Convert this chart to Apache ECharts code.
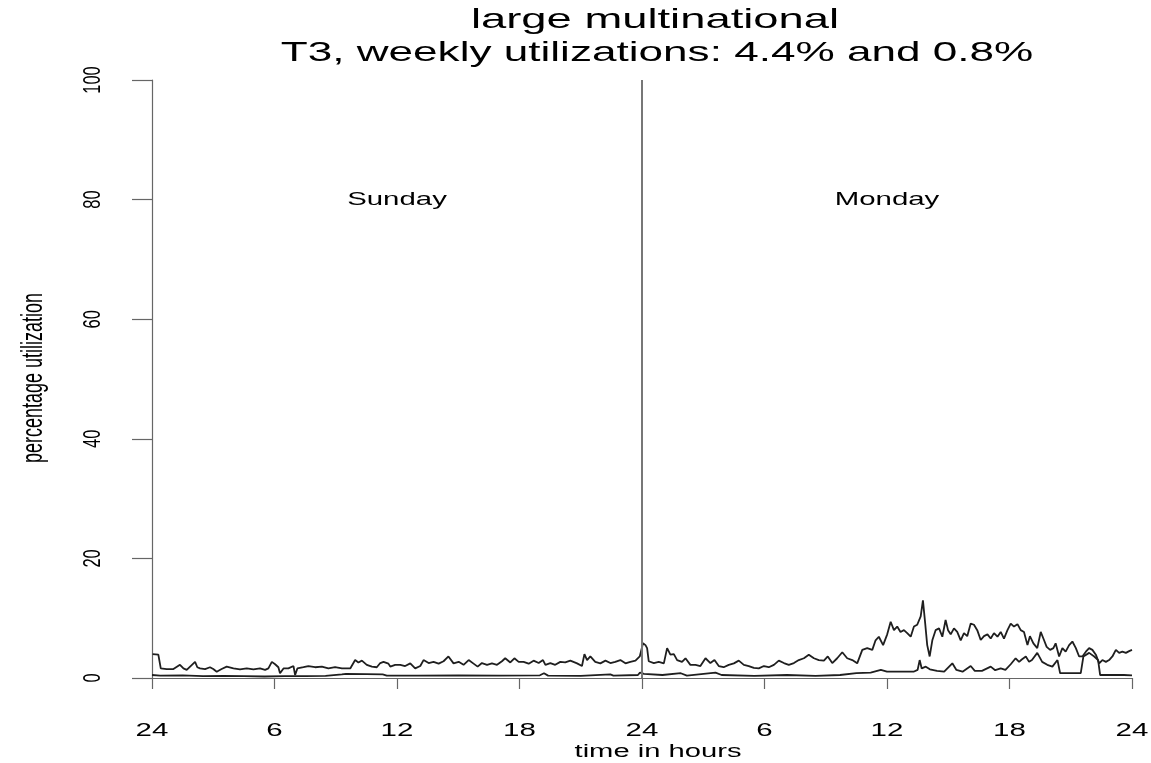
<!DOCTYPE html>
<html><head><meta charset="utf-8">
<script src="https://cdn.jsdelivr.net/npm/echarts/dist/echarts.min.js"></script>
<style>html,body{margin:0;padding:0;background:#fff}#c{width:1151px;height:763px}</style>
</head><body><div id="c"></div>
<script>
const titleLines = ['large multinational', 'T3, weekly utilizations: 4.4% and 0.8%'];
const xAxisName = 'time in hours';
const yAxisName = 'percentage utilization';
const xTickValues = [0, 6, 12, 18, 24, 30, 36, 42, 48];
const xTickLabels = ['24', '6', '12', '18', '24', '6', '12', '18', '24'];
const yTickValues = [0, 20, 40, 60, 80, 100];
const yTickLabels = ['0', '20', '40', '60', '80', '100'];
const dayLabels = ['Sunday', 'Monday'];
const dayLabelHours = [12, 36];
const dayLabelLevel = 80;
const dayBoundary = 24;

const upperHours = [0.03,0.31,0.43,0.72,1.05,1.37,1.54,1.70,2.11,2.22,2.35,2.6,2.84,3.0,3.17,3.41,3.66,3.99,4.31,4.64,4.97,5.29,5.54,5.7,5.87,6.03,6.19,6.27,6.44,6.68,6.93,7.01,7.12,7.42,7.66,7.99,8.32,8.64,8.97,9.3,9.71,9.95,10.11,10.28,10.52,10.77,11.01,11.18,11.34,11.58,
11.67,11.91,12.16,12.4,12.65,12.89,13.14,13.3,13.55,13.79,14.04,14.28,14.52,14.77,15.02,15.26,15.51,15.75,15.95,16.16,16.41,16.65,16.9,17.14,17.3,17.55,17.75,17.96,18.2,18.45,18.69,18.94,19.15,19.27,19.51,19.75,20.0,20.24,20.49,20.82,21.06,21.18,21.31,21.47,21.71,21.96,22.21,22.45,22.69,22.94,23.19,23.43,23.68,23.89,24.05,24.17,
24.25,24.33,24.58,24.82,25.07,25.23,25.39,25.56,25.72,25.96,26.13,26.37,26.62,26.86,27.11,27.35,27.55,27.76,28.0,28.25,28.5,28.74,28.99,29.23,29.48,29.72,29.97,30.21,30.46,30.7,30.95,31.19,31.44,31.68,31.93,32.17,32.42,32.66,32.91,33.1,33.32,33.56,33.81,34.05,34.3,34.54,34.79,35.03,35.28,35.44,35.6,35.81,36.01,36.18,
36.34,36.5,36.66,36.83,36.99,37.16,37.32,37.48,37.65,37.76,37.86,37.97,38.09,38.22,38.38,38.55,38.71,38.87,38.99,39.12,39.28,39.44,39.61,39.77,39.93,40.1,40.26,40.42,40.59,40.75,40.92,41.08,41.24,41.41,41.57,41.73,41.9,42.06,42.22,42.39,42.55,42.71,42.88,43.0,43.17,43.36,43.53,43.66,43.82,43.99,44.15,44.26,44.43,44.59,44.75,44.92,45.08,45.25,45.41,45.57,45.74,45.9,46.06,46.23,46.39,46.55,46.72,46.88,47.04,47.21,47.37,47.53,47.7,47.86,48.0];
const upperValues = [4.0,3.9,1.6,1.5,1.5,2.2,1.6,1.35,2.7,1.8,1.6,1.5,1.8,1.5,1.05,1.5,1.9,1.6,1.45,1.6,1.45,1.6,1.35,1.6,2.7,2.3,1.8,0.8,1.6,1.6,2.0,0.5,1.6,1.8,2.0,1.8,1.9,1.6,1.8,1.6,1.6,3.0,2.6,2.9,2.2,1.9,1.8,2.5,2.7,2.4,
1.9,2.2,2.2,2.0,2.45,1.6,2.0,3.0,2.5,2.7,2.4,2.8,3.6,2.45,2.7,2.2,3.0,2.4,1.9,2.5,2.2,2.45,2.2,2.8,3.3,2.6,3.3,2.7,2.7,2.4,2.9,2.5,3.0,2.2,2.5,2.2,2.7,2.6,2.9,2.45,2.0,4.0,3.0,3.6,2.7,2.45,2.9,2.5,2.7,3.0,2.45,2.7,2.9,3.6,5.8,5.5,
5.0,2.8,2.5,2.7,2.45,5.0,3.9,4.0,3.0,2.7,3.3,2.2,2.2,2.0,3.3,2.5,3.0,2.0,1.8,2.2,2.45,2.9,2.2,2.0,1.7,1.6,2.0,1.8,2.2,2.9,2.5,2.2,2.5,3.0,3.3,3.9,3.3,3.0,2.9,3.6,2.5,3.3,4.3,3.3,3.0,2.45,4.7,5.0,4.7,6.3,6.9,5.5,7.3,9.4,
8.0,8.6,7.7,8.0,7.5,6.9,8.6,8.9,10.3,13.0,9.5,5.5,3.6,6.3,8.0,8.3,6.9,9.7,8.0,7.3,8.3,7.7,6.3,7.5,7.0,9.1,8.9,8.0,6.35,7.0,7.3,6.6,7.5,6.9,7.7,6.6,8.0,9.1,8.6,9.0,8.0,7.7,5.5,7.0,5.8,5.0,7.7,6.6,5.2,4.7,5.0,5.8,3.6,5.0,4.4,5.5,6.1,5.0,3.6,3.6,4.4,5.0,4.7,3.9,2.45,3.0,2.7,3.0,3.6,4.7,4.2,4.4,4.2,4.5,4.7];

const lowerHours = [0,0.4,1.5,2.5,3.5,4.5,5.5,6.5,7.5,8.5,9.3,9.5,10.5,11.3,11.5,13,15,17,19,19.2,19.4,21,22.45,22.6,23.8,23.9,24.1,25,25.9,26.2,27.6,27.9,29.5,31.1,32.5,33.7,34.5,35.2,35.7,36,36.5,37.3,37.5,37.6,37.7,37.9,38.1,38.45,38.8,39.2,39.4,39.7,40.1,40.3,40.65,41.08,41.3,41.57,41.8,42.06,42.3,42.47,42.6,42.8,42.96,43.1,43.36,43.6,43.85,44.1,44.35,44.48,45.0,45.49,45.62,45.9,46.15,46.34,46.44,46.96,47.6,48];
const lowerValues = [0.5,0.4,0.45,0.3,0.35,0.3,0.25,0.3,0.3,0.35,0.6,0.7,0.65,0.6,0.4,0.4,0.45,0.4,0.45,0.8,0.4,0.35,0.6,0.4,0.5,0.9,0.7,0.5,0.8,0.4,0.9,0.5,0.35,0.5,0.35,0.5,0.8,0.9,1.35,1.05,1.05,1.05,1.35,3.0,1.6,1.9,1.45,1.2,1.05,2.45,1.35,1.05,2.0,1.2,1.2,1.9,1.3,1.6,1.35,2.3,3.3,2.7,3.1,3.6,2.7,3.0,4.2,2.7,2.2,1.9,3.0,0.8,0.8,0.8,3.6,4.2,3.6,3.0,0.5,0.5,0.5,0.45];

const pairs = (xs, ys) => xs.map((x, i) => [x, ys[i]]);
const chart = echarts.init(document.getElementById('c'), null, {renderer: 'canvas'});
const FONT = "'Liberation Sans', Arial, Helvetica, sans-serif";
const lineStyle = {color: '#1f1f1f', width: 1.8};

chart.setOption({
  animation: false,
  backgroundColor: '#fff',
  grid: {left: 152, right: 19, top: 80, bottom: 85, containLabel: false},
  xAxis: {
    type: 'value', min: 0, max: 48, interval: 6, offset: 22,
    axisLine: {show: true, lineStyle: {color: '#666', width: 1.2}},
    axisTick: {show: true, length: 11, lineStyle: {color: '#666', width: 1.2}},
    axisLabel: {show: false}, splitLine: {show: false}
  },
  yAxis: {
    type: 'value', min: 0, max: 100, interval: 20,
    axisLine: {show: true, lineStyle: {color: '#666', width: 1.2}},
    axisTick: {show: true, length: 20, lineStyle: {color: '#666', width: 1.2}},
    axisLabel: {show: false}, splitLine: {show: false}
  },
  series: [
    {type: 'line', data: pairs(upperHours, upperValues), showSymbol: false, lineStyle: lineStyle, z: 3,
     markLine: {silent: true, symbol: ['none', 'none'], label: {show: false},
       lineStyle: {color: '#777', width: 2, type: 'solid'}, data: [{xAxis: dayBoundary}]}},
    {type: 'line', data: pairs(lowerHours, lowerValues), showSymbol: false, lineStyle: lineStyle, z: 3}
  ]
});

function txt(text, x, y, size, sx, sy, rot) {
  return {type: 'text', x: x, y: y, rotation: rot || 0, scaleX: sx, scaleY: sy, z: 10,
    style: {text: text, fontSize: size, fontFamily: FONT, fill: '#000',
      align: 'center', verticalAlign: 'middle', textAlign: 'center', textVerticalAlign: 'middle'}};
}
const g = [];
g.push(txt(titleLines[0], 655, 20, 28, 1.62, 1));
g.push(txt(titleLines[1], 657, 53, 28, 1.575, 1));
xTickValues.forEach((v, i) => {
  const px = chart.convertToPixel({xAxisIndex: 0}, v);
  g.push(txt(xTickLabels[i], px, 731, 19, 1.55, 1));
});
yTickValues.forEach((v, i) => {
  const py = chart.convertToPixel({yAxisIndex: 0}, v);
  g.push(txt(yTickLabels[i], 93, py, 16.5, 1, 1.45, Math.PI / 2));
});
dayLabels.forEach((d, i) => {
  const p = chart.convertToPixel({gridIndex: 0}, [dayLabelHours[i], dayLabelLevel]);
  g.push(txt(d, p[0], p[1], 18.6, 1.58, 1));
});
g.push(txt(xAxisName, 658, 752, 18, 1.62, 1));
g.push(txt(yAxisName, 34, 378, 18, 1, 1.6, Math.PI / 2));
chart.setOption({graphic: g});
</script></body></html>
